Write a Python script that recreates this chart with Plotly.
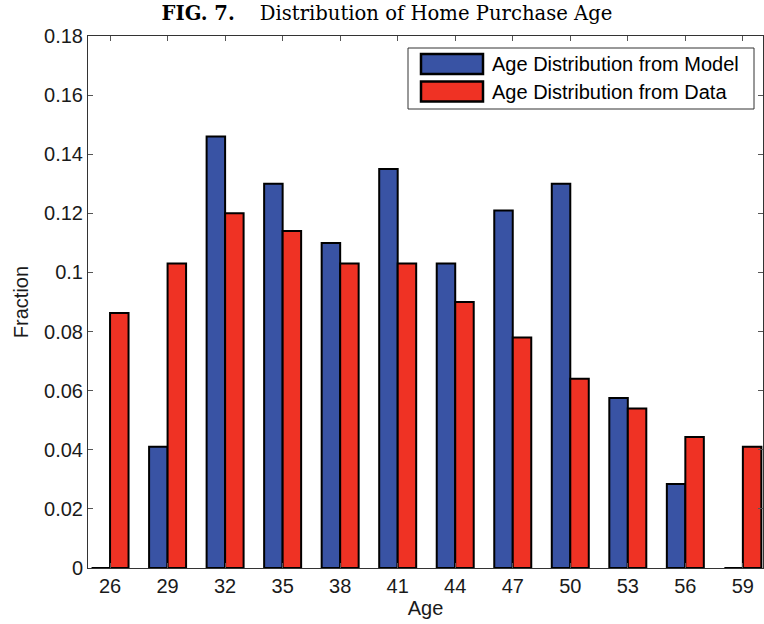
import plotly.graph_objects as go

ages = [26, 29, 32, 35, 38, 41, 44, 47, 50, 53, 56, 59]
model = [0.0, 0.041, 0.146, 0.130, 0.110, 0.135, 0.103, 0.121, 0.130, 0.0575, 0.0284, 0.0]
data = [0.0863, 0.103, 0.120, 0.114, 0.103, 0.103, 0.090, 0.078, 0.064, 0.054, 0.0443, 0.041]
ytick_vals = [0, 0.02, 0.04, 0.06, 0.08, 0.1, 0.12, 0.14, 0.16, 0.18]
ytick_text = ["0", "0.02", "0.04", "0.06", "0.08", "0.1", "0.12", "0.14", "0.16", "0.18"]
series_names = ["Age Distribution from Model", "Age Distribution from Data"]
series_colors = ["#3953a4", "#ef3224"]

W, H = 764, 624
ML, MR, MT, MB = 88, 1, 36, 56
PW, PH = W - ML - MR, H - MT - MB


def px_x(px):
    return (px - ML) / PW


def px_y(py):
    return (H - MB - py) / PH


fig = go.Figure()
for name, vals, col in zip(series_names, [model, data], series_colors):
    fig.add_trace(go.Bar(x=ages, y=vals, name=name, showlegend=False,
                         marker=dict(color=col, line=dict(color="black", width=2))))

font_sans = "Liberation Sans, Arial, sans-serif"

# legend box drawn as decoration in paper coordinates
shapes = [dict(type="rect", xref="paper", yref="paper",
               x0=px_x(408), x1=px_x(754), y0=px_y(109), y1=px_y(48),
               line=dict(color="#333", width=1), fillcolor="white", layer="above")]
annotations = []
for i, (name, col) in enumerate(zip(series_names, series_colors)):
    top = 54 + i * 27.5
    shapes.append(dict(type="rect", xref="paper", yref="paper",
                       x0=px_x(421), x1=px_x(483), y0=px_y(top + 20), y1=px_y(top),
                       line=dict(color="black", width=2.5), fillcolor=col, layer="above"))
    annotations.append(dict(text=name, xref="paper", yref="paper", x=px_x(490), y=px_y(top + 10),
                            xanchor="left", yanchor="middle", showarrow=False,
                            font=dict(family=font_sans, size=20, color="black")))

fig.update_layout(
    width=W, height=H,
    margin=dict(l=ML, r=MR, t=MT, b=MB),
    paper_bgcolor="white", plot_bgcolor="white",
    barmode="group", bargap=0.357, bargroupgap=0,
    font=dict(family=font_sans, size=20, color="#1a1a1a"),
    title=dict(text="<b>FIG. 7.</b>&nbsp;&nbsp;&nbsp; Distribution of Home Purchase Age",
               font=dict(family="DejaVu Serif, Liberation Serif, serif", size=19.6, color="black"),
               x=387 / W, xref="container", xanchor="center",
               y=1 - 13 / H, yref="container", yanchor="middle"),
    xaxis=dict(range=[24.85, 60.05], tickvals=ages, ticktext=[str(a) for a in ages],
               ticks="inside", ticklen=5, tickcolor="#555", showline=True, linecolor="#333",
               linewidth=1, mirror="ticks", showgrid=False, zeroline=False, automargin=False,
               tickfont=dict(size=20),
               title=dict(text="Age", standoff=2, font=dict(size=20))),
    yaxis=dict(range=[0, 0.18], tickvals=ytick_vals, ticktext=ytick_text,
               ticks="inside", ticklen=5, tickcolor="#555", showline=True, linecolor="#333",
               linewidth=1, mirror="ticks", showgrid=False, zeroline=False, automargin=False,
               tickfont=dict(size=20),
               title=dict(text="Fraction", standoff=10, font=dict(size=20))),
    shapes=shapes,
    annotations=annotations,
)
fig.write_html("out.html", config={"displayModeBar": False},
               post_script="document.body.style.margin='0';")
